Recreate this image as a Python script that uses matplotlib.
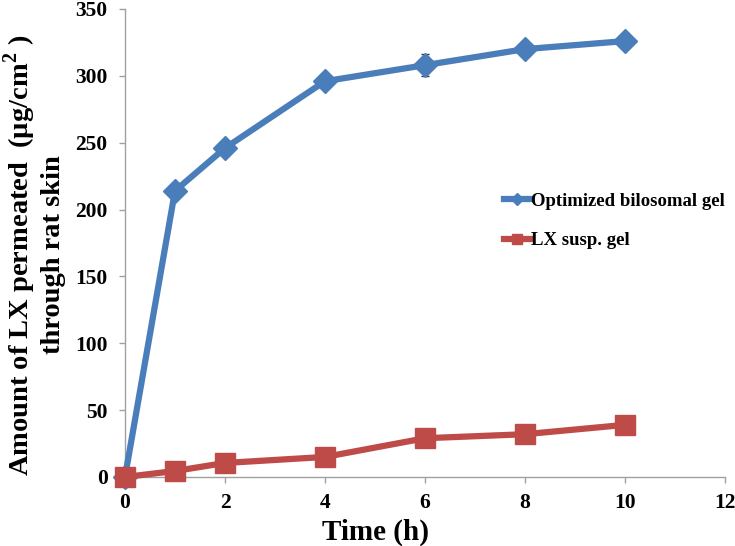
import matplotlib
matplotlib.use("Agg")
import matplotlib.pyplot as plt

time_h = [0, 1, 2, 4, 6, 8, 10]
bilosomal = [0, 214, 246, 296, 308, 320, 326]
bilosomal_err = [0, 2, 2, 2, 8, 2, 2]
susp = [0, 4.5, 10.5, 15, 29, 32, 39]
susp_err = [0, 1, 1, 1, 1, 1, 1]
xticks = [0, 2, 4, 6, 8, 10, 12]
yticks = [0, 50, 100, 150, 200, 250, 300, 350]

plt.rcParams['font.family'] = ['Liberation Serif', 'DejaVu Serif']
plt.rcParams['font.weight'] = 'bold'
plt.rcParams['mathtext.fontset'] = 'custom'
plt.rcParams['mathtext.bf'] = 'Liberation Serif:bold'
plt.rcParams['mathtext.rm'] = 'Liberation Serif:bold'

fig = plt.figure(figsize=(7.35, 5.46), dpi=100)
ax = fig.add_axes([125 / 735, 1 - 477 / 546, 600 / 735, 468 / 546])

blue = '#4A7EBB'
red = '#BE4B48'
ax.errorbar(time_h, bilosomal, yerr=bilosomal_err, fmt='none',
            ecolor='#333333', elinewidth=1, capsize=3, zorder=2)
ax.errorbar(time_h, susp, yerr=susp_err, fmt='none',
            ecolor='#333333', elinewidth=1, capsize=3, zorder=2)
l1, = ax.plot(time_h, bilosomal, color=blue, lw=4.5, marker='D', markersize=12,
              label='Optimized bilosomal gel', zorder=3, clip_on=False)
l2, = ax.plot(time_h, susp, color=red, lw=4.5, marker='s', markersize=14,
              label='LX susp. gel', zorder=4, clip_on=False)

ax.set_xlim(0, 12)
ax.set_ylim(0, 350)
ax.set_xticks(xticks)
ax.set_yticks(yticks)
for s in ['top', 'right']:
    ax.spines[s].set_visible(False)
for s in ['left', 'bottom']:
    ax.spines[s].set_color('#A0A0A0')
    ax.spines[s].set_linewidth(1)
ax.tick_params(axis='both', color='#A0A0A0', length=4.5, labelsize=15.5, width=1)
ax.tick_params(axis='y', pad=8)
ax.tick_params(axis='x', pad=7)
for lbl in ax.get_xticklabels() + ax.get_yticklabels():
    lbl.set_fontweight('bold')
fig.text(376 / 735, 1 - 540 / 546, 'Time (h)', ha='center', va='baseline',
         fontsize=21, fontweight='bold')
fig.text(0.046, 0.533,
         'Amount of LX permeated  (\u00b5g/cm$^{2}$ )\nthrough rat skin',
         rotation=90, ha='center', va='center', multialignment='center',
         fontsize=20.5, fontweight='bold', linespacing=1.15)

leg = ax.legend([l1, l2], ['Optimized bilosomal gel', 'LX susp. gel'],
                loc='center left', bbox_to_anchor=(0.603, 0.547),
                frameon=False, markerscale=0.5, handlelength=1.4,
                handletextpad=0.05, labelspacing=1.2,
                prop={'weight': 'bold', 'size': 13.5})
fig.savefig('out.png', dpi=100)
